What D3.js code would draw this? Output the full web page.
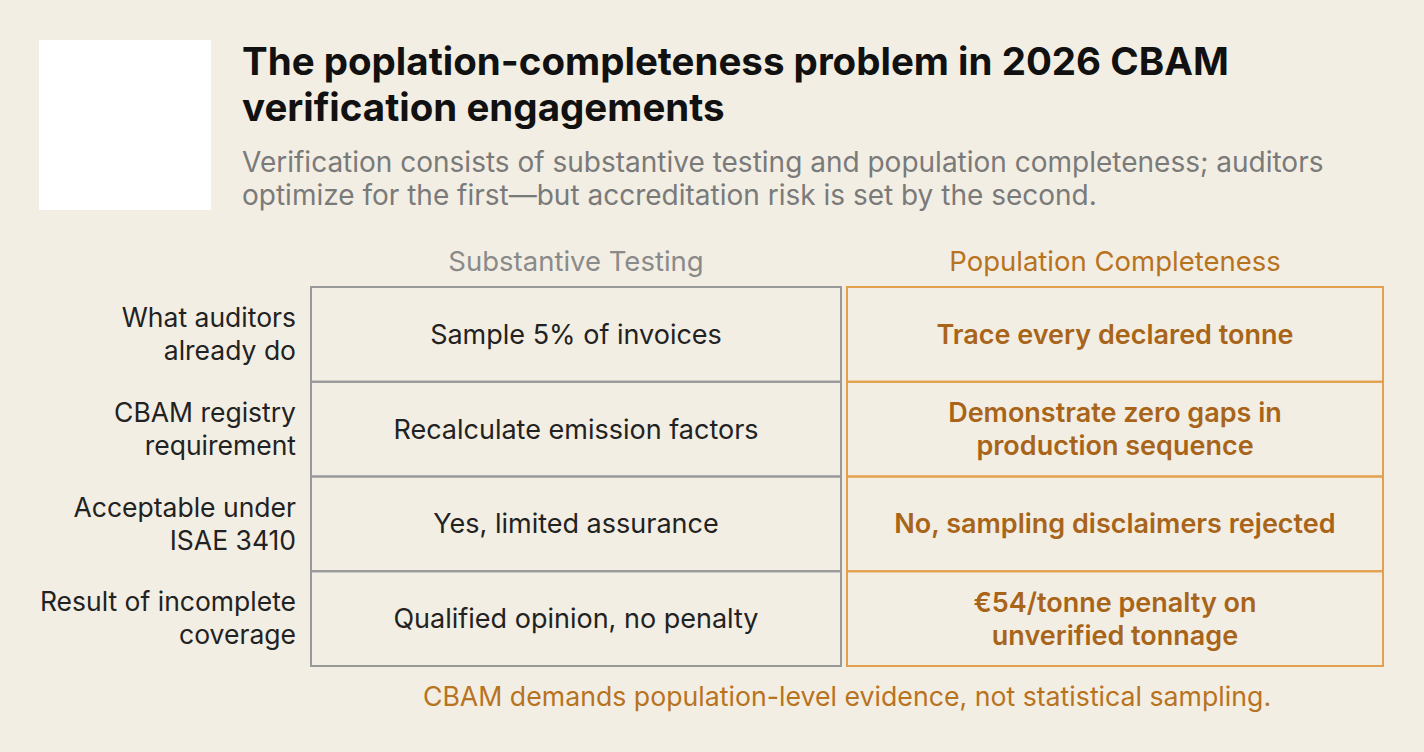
<!DOCTYPE html><html><head><meta charset="utf-8">
<script src="https://cdn.jsdelivr.net/npm/d3@7"></script>
<style>body{margin:0;background:#f3eee3}</style></head><body>
<script>
const rowLabels=[["What auditors","already do"],["CBAM registry","requirement"],["Acceptable under","ISAE 3410"],["Result of incomplete","coverage"]];
const columns=["Substantive Testing","Population Completeness"];
const substantive=[["Sample 5% of invoices"],["Recalculate emission factors"],["Yes, limited assurance"],["Qualified opinion, no penalty"]];
const completeness=[["Trace every declared tonne"],["Demonstrate zero gaps in","production sequence"],["No, sampling disclaimers rejected"],["€54/tonne penalty on","unverified tonnage"]];
const W=1424,H=752,F="Inter, 'Noto Sans', sans-serif";
const svg=d3.select("body").append("svg").attr("width",W).attr("height",H);
svg.append("rect").attr("width",W).attr("height",H).attr("fill","#f3eee3");
svg.append("rect").attr("x",39).attr("y",40).attr("width",172).attr("height",170).attr("fill","#fff");
[["The poplation-completeness problem in 2026 CBAM",75],["verification engagements",121]].forEach(([t,y])=>svg.append("text").attr("x",242).attr("y",y).text(t).attr("font-family",F).attr("font-weight",700).attr("font-size",38.5).attr("fill","#111"));
[["Verification consists of substantive testing and population completeness; auditors",172],["optimize for the first—but accreditation risk is set by the second.",205]].forEach(([t,y])=>svg.append("text").attr("x",242).attr("y",y).text(t).attr("font-family",F).attr("font-size",28).attr("fill","#7a7a7a"));
const y=d3.scaleBand().domain(d3.range(4)).range([287,666]);
const cols=[{x0:311,x1:841,data:substantive,stroke:"#999",color:"#222",weight:400,head:"#8a8a8a"},{x0:847,x1:1383,data:completeness,stroke:"#e3a04f",color:"#a8651a",weight:600,head:"#b8731f"}];
const lines=(g,arr,cx,cy,lh)=>arr.forEach((t,i)=>g.append("text").attr("x",cx).attr("y",cy+(i-(arr.length-1)/2)*lh).attr("dy","0.35em").text(t));
cols.forEach((c,ci)=>{
  svg.append("text").attr("x",(c.x0+c.x1)/2).attr("y",261).attr("dy","0.35em").attr("text-anchor","middle").text(columns[ci]).attr("font-family",F).attr("font-size",27.5).attr("fill",c.head);
  const g=svg.append("g").attr("font-family",F).attr("font-size",27).attr("font-weight",c.weight).attr("fill",c.color).attr("text-anchor","middle");
  c.data.forEach((d,i)=>{
    svg.append("rect").attr("x",c.x0).attr("y",y(i)).attr("width",c.x1-c.x0).attr("height",y.bandwidth()).attr("fill","none").attr("stroke",c.stroke).attr("stroke-width",2);
    lines(g,d,(c.x0+c.x1)/2,y(i)+y.bandwidth()/2,33);
  });
});
const lg=svg.append("g").attr("font-family",F).attr("font-size",26.5).attr("fill","#222").attr("text-anchor","end");
rowLabels.forEach((d,i)=>lines(lg,d,296,y(i)+y.bandwidth()/2,33));
svg.append("text").attr("x",847).attr("y",697).attr("dy","0.35em").attr("text-anchor","middle").text("CBAM demands population-level evidence, not statistical sampling.").attr("font-family",F).attr("font-size",26.7).attr("fill","#b8731f");
</script></body></html>
